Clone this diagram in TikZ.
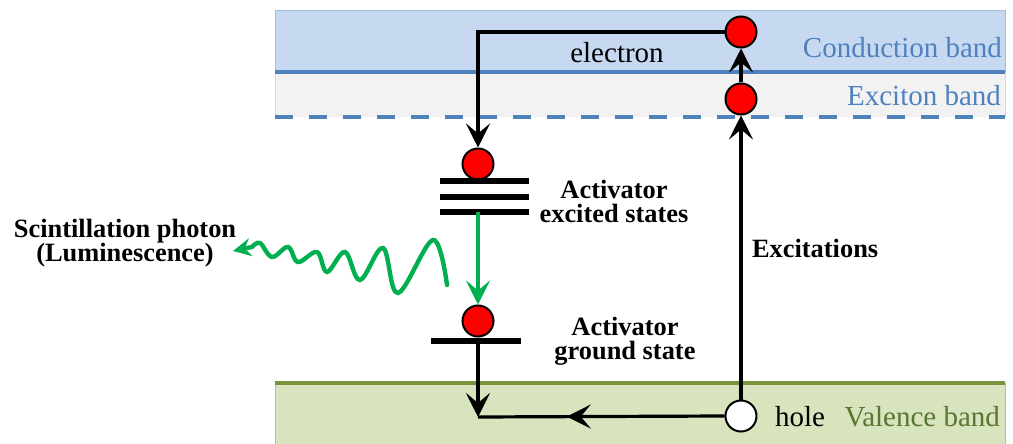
\documentclass[tikz,border=0pt]{standalone}
\usepackage{fontspec}
\setmainfont{Liberation Serif}
\usetikzlibrary{arrows.meta,positioning,decorations.markings}

\definecolor{cbfill}{HTML}{C6D9F1}
\definecolor{xbfill}{HTML}{F2F2F2}
\definecolor{vbfill}{HTML}{D7E4BD}
\definecolor{bandblue}{HTML}{4F81BD}
\definecolor{bandgreen}{HTML}{77933C}
\definecolor{vbtext}{HTML}{5A7531}
\definecolor{photongreen}{HTML}{00B050}

\begin{document}
\begin{tikzpicture}[
    x=0.5pt, y=-0.5pt,
    flow/.style={-{Stealth[length=12pt, width=12pt, inset=5pt]}, line width=1.6pt},
    level/.style={line width=2.7pt},
    elec/.style={circle, draw, line width=1pt, fill=red, minimum size=15.5pt, inner sep=0pt},
    hole/.style={circle, draw, line width=1pt, fill=white, minimum size=15.5pt, inner sep=0pt},
    lbl/.style={font=\fontsize{14.5}{16}\selectfont},
    blbl/.style={font=\fontsize{13.2}{12}\selectfont\bfseries, align=center},
]
\useasboundingbox (0,0) rectangle (1013,444);

% Bands
\fill[cbfill] (275,10) rectangle (1005,72);
\fill[xbfill] (275,72) rectangle (1005,117);
\fill[vbfill] (275,383) rectangle (1005,444);
\draw[cbfill!70!bandblue, thin] (275,72) -- (275,10) -- (1005,10) -- (1005,72);
\draw[xbfill!80!bandblue, thin] (275,72) -- (275,117);
\draw[xbfill!80!bandblue, thin] (1005,72) -- (1005,117);
\draw[vbfill!60!bandgreen, thin] (275,383) -- (275,444);
\draw[vbfill!60!bandgreen, thin] (1005,383) -- (1005,444);
\draw[bandblue, line width=2.2pt] (275,72) -- (1005,72);
\draw[bandblue, line width=2.2pt, dash pattern=on 9pt off 8pt] (275,117) -- (1005,117);
\draw[bandgreen, line width=2.2pt] (275,383) -- (1005,383);

\node[lbl, bandblue, anchor=east] (cb) at (1009,48) {Conduction band};
\node[lbl, bandblue, anchor=east] (xb) at (1008,96) {Exciton band};
\node[lbl, vbtext, anchor=east] (vb) at (1007,417) {Valence band};

% Carriers
\node[elec] (ec) at (741,32) {};
\node[elec] (xc) at (741,99) {};
\node[hole] (hc) at (741,416) {};
\node[elec] (ac) at (478,164) {};
\node[elec] (gc) at (478,321) {};

% Activator levels
\foreach \y/\n in {181/ex1,197/ex2,212/ex3} {
    \draw[level] (440,\y) -- (529,\y);
    \coordinate (\n) at (478,\y);
}
\draw[level] (431,341) -- (521,341);
\coordinate (gl) at (478,343);
\coordinate (cr) at (478,417);

% Transitions
\draw[flow] (ec.west) -| (ac.north);
\draw[flow] (xc.north) -- (ec.south);
\draw[flow] (hc.north) -- (xc.south);
\draw[flow] (gl) -- (cr);
\draw[line width=1.6pt, decoration={markings,
    mark=at position 0.64 with {\arrow{Stealth[length=12pt, width=12pt, inset=5pt]}}},
    postaction={decorate}] (hc.west) -- (cr);
\draw[flow, photongreen] (ex3) -- (gc.north);

% Photon
\draw[photongreen, line width=2.2pt, line cap=round,
    -{Stealth[length=9pt, width=9pt, inset=3pt]}]
    plot[smooth, tension=0.6] coordinates {(447,285) (433,240) (398,293) (383,248)
    (360,280) (345,252) (327,272) (317,252) (298,262) (288,247) (272,257)
    (260,243) (252,247)} -- (233,251);

% Labels
\node[lbl] (el) at (617,53) {electron};
\node[lbl, anchor=west] (hl) at (768,417) {hole};
\node[blbl, anchor=west] (exl) at (745,248) {Excitations};
\node[blbl] (axl) at (614,201) {Activator\\excited states};
\node[blbl] (agl) at (625,341) {Activator\\ground state};
\node[blbl] (phl) at (125,243) {Scintillation photon\\(Luminescence)};
\end{tikzpicture}
\end{document}
